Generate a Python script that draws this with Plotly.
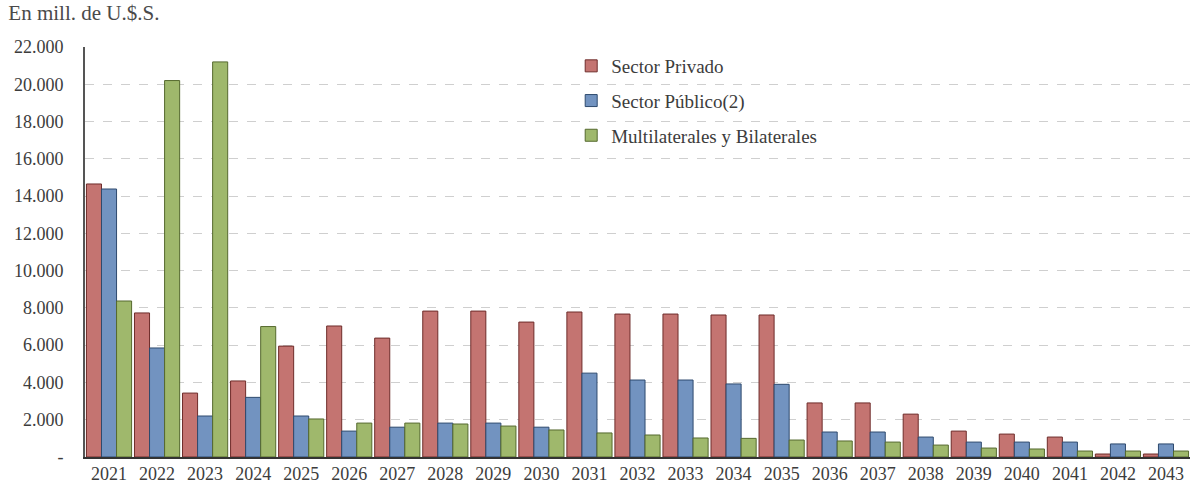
import plotly.graph_objects as go

years = [str(y) for y in range(2021, 2044)]
privado = [14650, 7730, 3430, 4080, 5950, 7030, 6380, 7830, 7830, 7240, 7780, 7670, 7670, 7620, 7620,
           2900, 2900, 2300, 1390, 1230, 1070, 160, 160]
publico = [14380, 5850, 2200, 3200, 2200, 1390, 1600, 1820, 1820, 1600, 4500, 4130, 4130, 3920, 3900,
           1340, 1340, 1070, 800, 800, 800, 700, 700]
multi = [8370, 20200, 21200, 7000, 2040, 1820, 1820, 1770, 1660, 1450, 1290, 1180, 1020, 1000, 910,
         860, 800, 640, 480, 430, 320, 320, 320]

tick_vals = list(range(0, 22001, 2000))
tick_text = ["-"] + [f"{v:,}".replace(",", ".") for v in tick_vals[1:]]

series = [
    ("Sector Privado", privado, "#C47471", "#6E2C2A"),
    ("Sector Público(2)", publico, "#7293C0", "#2E4A6E"),
    ("Multilaterales y Bilaterales", multi, "#9FB86C", "#55692E"),
]

fig = go.Figure()
for i, (name, vals, col, edge) in enumerate(series):
    fig.add_trace(go.Bar(
        x=years, y=vals, name=name, legendgroup=f"g{i}",
        marker=dict(color=col, line=dict(color=edge, width=1)),
    ))

font_family = "Liberation Serif, Times New Roman, serif"
fig.update_layout(
    width=1195, height=484,
    margin=dict(l=85, r=5, t=47, b=27, autoexpand=False),
    paper_bgcolor="white", plot_bgcolor="white",
    barmode="group", bargap=0.06, bargroupgap=0.0,
    font=dict(family=font_family, size=15, color="#3C3C3C"),
    title=dict(text="En mill. de U.$.S.", x=0.007, xanchor="left", y=0.99, yanchor="top",
               font=dict(family=font_family, size=21, color="#4A4A4A")),
    legend=dict(x=0.44, y=1.0, xanchor="left", yanchor="top",
                bgcolor="rgba(255,255,255,0)", tracegroupgap=7,
                font=dict(family=font_family, size=19, color="#3C3C3C"),
                itemwidth=30),
    showlegend=True,
    xaxis=dict(showline=True, linecolor="#333333", linewidth=1.5, ticks="",
               tickfont=dict(size=18), showgrid=False, automargin=False),
    yaxis=dict(range=[0, 22000], tickvals=tick_vals, ticktext=tick_text,
               showline=True, linecolor="#555555", linewidth=2,
               showgrid=True, gridcolor="#CFCFCF", griddash="dash", gridwidth=1,
               tickfont=dict(size=18), ticks="", zeroline=False,
               ticklabelstandoff=16, automargin=False),
)

fig.write_html("out.html", config={"displayModeBar": False},
               post_script="document.body.style.margin='0';")
